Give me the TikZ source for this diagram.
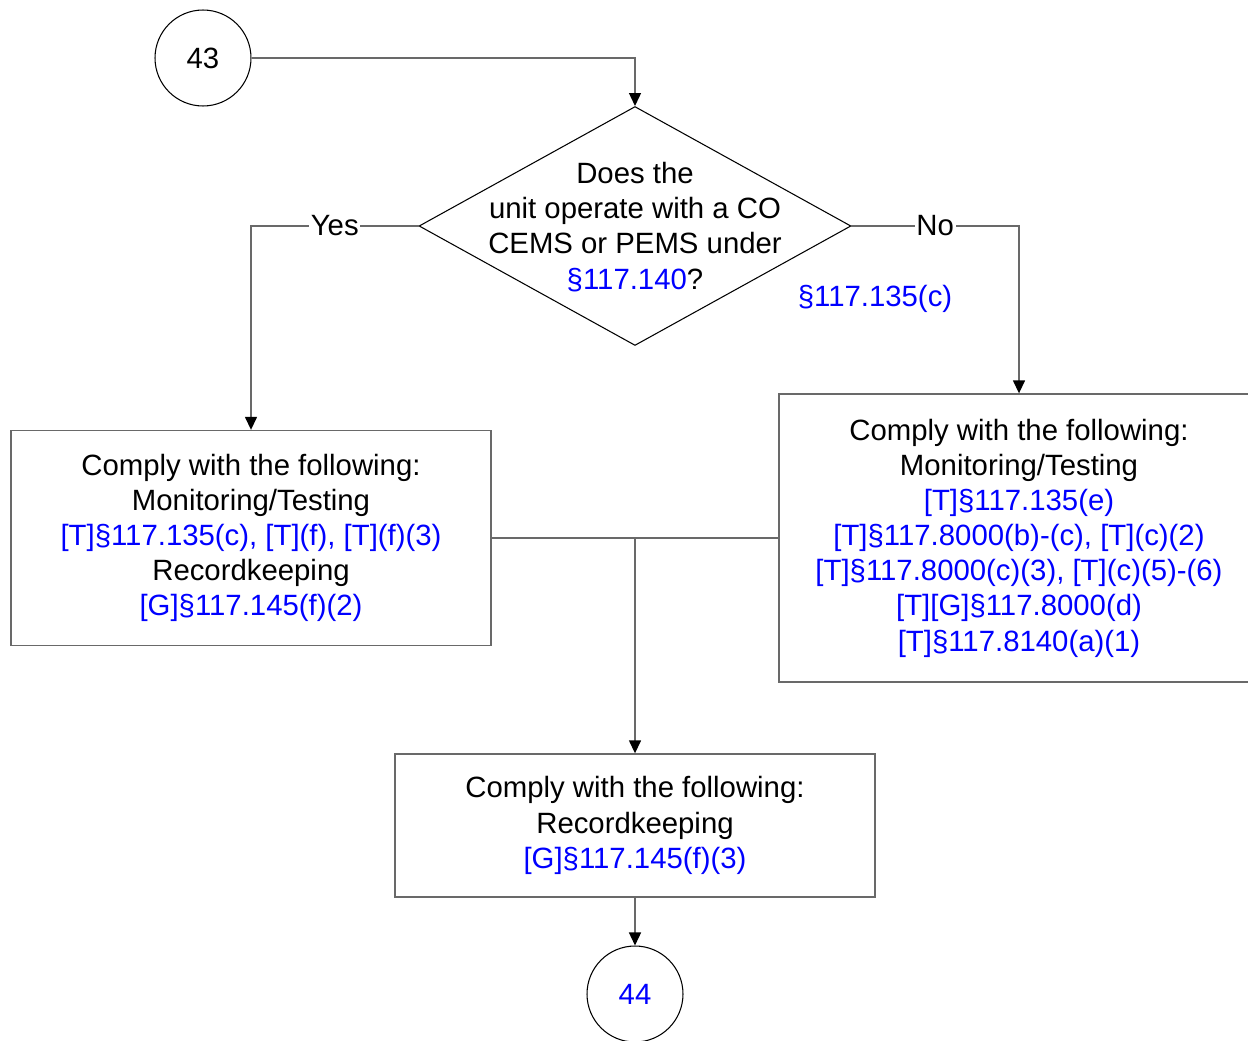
\documentclass[tikz,border=0pt]{standalone}
\usepackage{fontspec}
\setmainfont{Liberation Sans}
\usetikzlibrary{shapes.geometric,arrows.meta}
\definecolor{refblue}{RGB}{0,0,255}
\definecolor{linegray}{RGB}{105,105,105}

\begin{document}
\begin{tikzpicture}[x=0.02cm,y=-0.02cm,
  every node/.style={font=\fontsize{16.7}{20}\selectfont},
  conn/.style={draw=linegray,line width=0.8pt},
  arr/.style={conn,-{Triangle[length=0.26cm,width=0.24cm,color=black]}},
  connector/.style={shape=circle,minimum size=1.92cm,inner sep=0pt,draw,line width=0.6pt},
  stepbox/.style={shape=rectangle,draw=linegray,line width=0.8pt,minimum width=9.6cm,align=center},
  ref/.style={text=refblue}]
\useasboundingbox (0,0) rectangle (1248,1041);
\path (203,58) node (c43) [connector] {43};
\path (635,226) node (question) [shape=diamond,draw,line width=0.6pt,minimum width=8.64cm,minimum height=4.78cm,inner sep=0pt] {};
\path (635,227) node (qtext) [align=center] {Does the\\unit operate with a CO\\CEMS or PEMS under\\\textcolor{refblue}{§117.140}?};
\path (875,299) node (noref) [ref] {§117.135(c)};
\path (251,538) node (leftbox) [stepbox,minimum height=4.3cm]
  {Comply with the following:\\Monitoring/Testing\\\textcolor{refblue}{[T]§117.135(c), [T](f), [T](f)(3)}\\Recordkeeping\\\textcolor{refblue}{[G]§117.145(f)(2)}};
\path (1019,538) node (rightbox) [stepbox,minimum height=5.76cm]
  {Comply with the following:\\Monitoring/Testing\\\color{refblue}[T]§117.135(e)\\\color{refblue}[T]§117.8000(b)-(c), [T](c)(2)\\\color{refblue}[T]§117.8000(c)(3), [T](c)(5)-(6)\\\color{refblue}[T][G]§117.8000(d)\\\color{refblue}[T]§117.8140(a)(1)};
\path (635,825.5) node (lastbox) [stepbox,minimum height=2.86cm]
  {Comply with the following:\\Recordkeeping\\\textcolor{refblue}{[G]§117.145(f)(3)}};
\path (635,994) node (c44) [connector,ref] {44};
\coordinate (join) at (635,538);

\draw [arr] (c43) -| (question.north);
\draw [arr] (question.west) -| node [pos=0.25,fill=white,inner sep=1pt] {Yes} (leftbox.north);
\draw [arr] (question.east) -| node [pos=0.25,fill=white,inner sep=1pt] {No} (rightbox.north);
\draw [conn] (leftbox.east) to (rightbox.west);
\draw [arr] (join) to (lastbox.north);
\draw [arr] (lastbox.south) to (c44);
\end{tikzpicture}
\end{document}
